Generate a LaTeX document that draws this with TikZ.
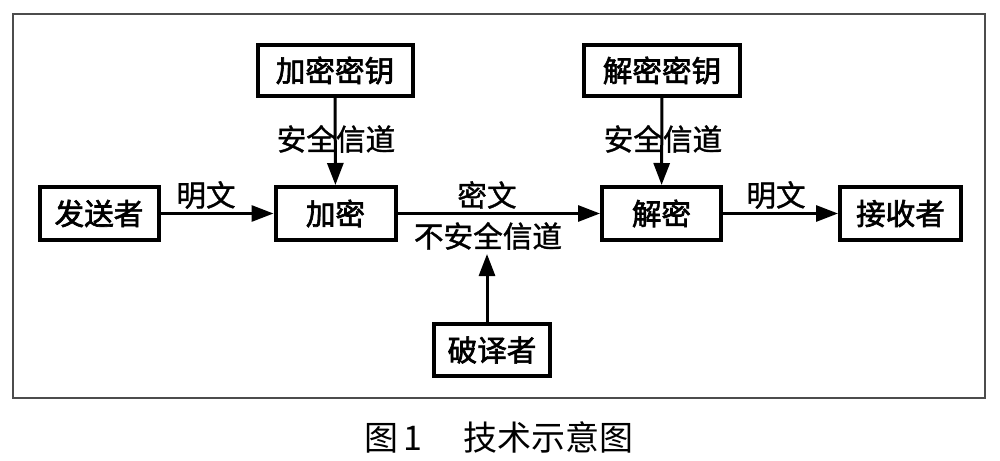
\documentclass[tikz,border=0pt]{standalone}
\usepackage{fontspec}
\newfontfamily\cjk{Noto Sans CJK SC}
\newfontfamily\cjkbox[FakeBold=2.2]{Noto Sans CJK SC}
\newfontfamily\cjklbl[FakeBold=1.2]{Noto Sans CJK SC}
\usetikzlibrary{arrows.meta}
\begin{document}
\begin{tikzpicture}[x=0.5pt,y=-0.5pt,
  boxnode/.style={draw, line width=2pt, inner sep=0pt, font=\cjkbox\fontsize{14.8pt}{16pt}\selectfont, text=black},
  lbl/.style={inner sep=0pt, font=\cjklbl\fontsize{14.8pt}{16pt}\selectfont},
  conn/.style={line width=1.5pt, -{Triangle[length=11pt,width=8pt]}}]
\useasboundingbox (0,0) rectangle (1000,460);
\draw[line width=0.8pt, black!70] (13,14) rectangle (985,398);
% boxes
\node[boxnode, minimum width=119pt/2, minimum height=53pt/2] (send) at (99,213.5) {发送者};
\node[boxnode, minimum width=120pt/2, minimum height=53pt/2] (enc) at (335.5,213.5) {加密};
\node[boxnode, minimum width=155pt/2, minimum height=51pt/2] (ekey) at (335,70.5) {加密密钥};
\node[boxnode, minimum width=119pt/2, minimum height=53pt/2] (dec) at (661.5,213.5) {解密};
\node[boxnode, minimum width=156pt/2, minimum height=51pt/2] (dkey) at (662,70.5) {解密密钥};
\node[boxnode, minimum width=121pt/2, minimum height=53pt/2] (recv) at (900.5,213.5) {接收者};
\node[boxnode, minimum width=116pt/2, minimum height=52pt/2] (crack) at (492,350) {破译者};
% labels
\node[lbl] (l1) at (206,195) {明文};
\node[lbl] (l2) at (336,139) {安全信道};
\node[lbl] (l3) at (487,195) {密文};
\node[lbl] (l4) at (488,236) {不安全信道};
\node[lbl] (l5) at (663,139) {安全信道};
\node[lbl] (l6) at (776,195) {明文};
% connectors
\draw[conn] (send) -- (enc);
\draw[conn] (ekey) -- (enc);
\draw[conn] (enc) -- (dec);
\draw[conn] (dkey) -- (dec);
\draw[conn] (dec) -- (recv);
\coordinate (tip) at (487,254);
\draw[conn] (crack.north -| tip) -- (tip);
% caption
\node[inner sep=0pt, font=\cjk\fontsize{17pt}{19pt}\selectfont] (cap) at (499,437) {图\,1\hspace{1.2em}技术示意图};
\end{tikzpicture}
\end{document}
